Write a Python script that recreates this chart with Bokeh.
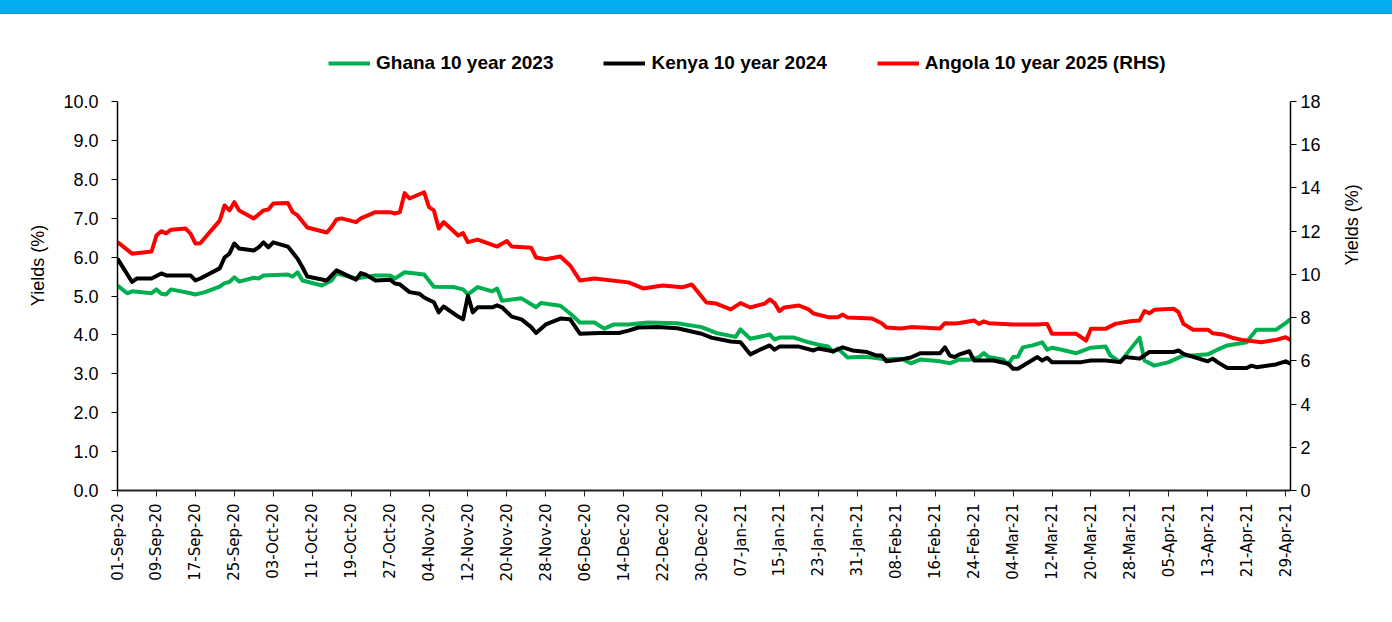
import pandas as pd
from math import pi
from bokeh.plotting import figure
from bokeh.models import (ColumnDataSource, LinearAxis, Range1d, FixedTicker,
                          PrintfTickFormatter, DatetimeTickFormatter, Legend,
                          LegendItem, Div)
from bokeh.layouts import column
from bokeh.embed import file_html
from bokeh.resources import INLINE

# ---------------- data ----------------
ghana_dates = ["2020-09-01", "2020-09-03", "2020-09-04", "2020-09-08", "2020-09-09", "2020-09-10",
               "2020-09-11", "2020-09-12", "2020-09-16", "2020-09-17", "2020-09-19", "2020-09-22",
               "2020-09-23", "2020-09-24", "2020-09-25", "2020-09-26", "2020-09-29", "2020-09-30",
               "2020-10-01", "2020-10-06", "2020-10-07", "2020-10-08", "2020-10-09", "2020-10-13",
               "2020-10-15", "2020-10-16", "2020-10-20", "2020-10-24", "2020-10-27", "2020-10-28",
               "2020-10-30", "2020-11-03", "2020-11-05", "2020-11-09", "2020-11-11", "2020-11-12",
               "2020-11-14", "2020-11-17", "2020-11-18", "2020-11-19", "2020-11-23", "2020-11-26",
               "2020-11-27", "2020-12-01", "2020-12-03", "2020-12-05", "2020-12-08", "2020-12-10",
               "2020-12-12", "2020-12-15", "2020-12-19", "2020-12-25", "2020-12-30", "2021-01-02",
               "2021-01-06", "2021-01-07", "2021-01-09", "2021-01-12", "2021-01-13", "2021-01-14",
               "2021-01-15", "2021-01-18", "2021-01-21", "2021-01-23", "2021-01-25", "2021-01-26",
               "2021-01-27", "2021-01-29", "2021-02-01", "2021-02-03", "2021-02-06", "2021-02-09",
               "2021-02-11", "2021-02-13", "2021-02-17", "2021-02-19", "2021-02-21", "2021-02-23",
               "2021-02-25", "2021-02-26", "2021-02-27", "2021-03-02", "2021-03-03", "2021-03-04",
               "2021-03-05", "2021-03-06", "2021-03-08", "2021-03-10", "2021-03-11", "2021-03-12",
               "2021-03-14", "2021-03-17", "2021-03-20", "2021-03-23", "2021-03-24", "2021-03-26",
               "2021-03-30", "2021-03-31", "2021-04-02", "2021-04-05", "2021-04-08", "2021-04-10",
               "2021-04-13", "2021-04-15", "2021-04-17", "2021-04-21", "2021-04-22", "2021-04-23",
               "2021-04-27", "2021-04-28", "2021-04-29", "2021-04-30"]
ghana_vals = [5.27, 5.07, 5.12, 5.07, 5.17, 5.06,
              5.04, 5.17, 5.07, 5.04, 5.10, 5.24,
              5.33, 5.36, 5.48, 5.37, 5.47, 5.45,
              5.53, 5.55, 5.50, 5.61, 5.40, 5.27,
              5.40, 5.58, 5.45, 5.53, 5.53, 5.45,
              5.61, 5.55, 5.24, 5.23, 5.17, 5.04,
              5.23, 5.12, 5.19, 4.88, 4.94, 4.71,
              4.82, 4.75, 4.55, 4.32, 4.32, 4.16,
              4.27, 4.27, 4.32, 4.30, 4.20, 4.05,
              3.95, 4.14, 3.90, 3.98, 4.01, 3.88,
              3.93, 3.93, 3.81, 3.75, 3.70, 3.56,
              3.65, 3.42, 3.44, 3.42, 3.37, 3.39,
              3.27, 3.37, 3.32, 3.27, 3.37, 3.36,
              3.43, 3.53, 3.43, 3.36, 3.24, 3.43,
              3.44, 3.68, 3.73, 3.81, 3.62, 3.67,
              3.62, 3.53, 3.67, 3.70, 3.47, 3.30,
              3.93, 3.34, 3.21, 3.30, 3.47, 3.47,
              3.50, 3.62, 3.73, 3.81, 3.98, 4.13,
              4.13, 4.22, 4.30, 4.41]

kenya_dates = ["2020-09-01", "2020-09-04", "2020-09-05", "2020-09-08", "2020-09-10", "2020-09-11",
               "2020-09-16", "2020-09-17", "2020-09-18", "2020-09-22", "2020-09-23", "2020-09-24",
               "2020-09-25", "2020-09-26", "2020-09-29", "2020-09-30", "2020-10-01", "2020-10-02",
               "2020-10-03", "2020-10-06", "2020-10-08", "2020-10-09", "2020-10-10", "2020-10-14",
               "2020-10-16", "2020-10-20", "2020-10-21", "2020-10-22", "2020-10-24", "2020-10-27",
               "2020-10-28", "2020-10-29", "2020-10-31", "2020-11-02", "2020-11-03", "2020-11-05",
               "2020-11-06", "2020-11-07", "2020-11-10", "2020-11-11", "2020-11-12", "2020-11-13",
               "2020-11-14", "2020-11-17", "2020-11-18", "2020-11-19", "2020-11-21", "2020-11-23",
               "2020-11-25", "2020-11-26", "2020-11-28", "2020-12-01", "2020-12-03", "2020-12-05",
               "2020-12-09", "2020-12-13", "2020-12-15", "2020-12-17", "2020-12-21", "2020-12-25",
               "2020-12-30", "2021-01-01", "2021-01-05", "2021-01-07", "2021-01-09", "2021-01-11",
               "2021-01-13", "2021-01-14", "2021-01-15", "2021-01-19", "2021-01-22", "2021-01-23",
               "2021-01-26", "2021-01-28", "2021-01-30", "2021-02-02", "2021-02-04", "2021-02-05",
               "2021-02-06", "2021-02-09", "2021-02-11", "2021-02-13", "2021-02-17", "2021-02-18",
               "2021-02-19", "2021-02-20", "2021-02-21", "2021-02-23", "2021-02-24", "2021-02-28",
               "2021-03-03", "2021-03-04", "2021-03-05", "2021-03-09", "2021-03-10", "2021-03-11",
               "2021-03-12", "2021-03-18", "2021-03-20", "2021-03-23", "2021-03-26", "2021-03-27",
               "2021-03-30", "2021-04-01", "2021-04-06", "2021-04-07", "2021-04-08", "2021-04-13",
               "2021-04-14", "2021-04-15", "2021-04-17", "2021-04-21", "2021-04-22", "2021-04-23",
               "2021-04-27", "2021-04-29", "2021-04-30"]
kenya_vals = [5.96, 5.36, 5.45, 5.45, 5.58, 5.53,
              5.53, 5.40, 5.45, 5.71, 5.99, 6.09,
              6.35, 6.22, 6.17, 6.25, 6.38, 6.25,
              6.38, 6.27, 5.96, 5.74, 5.50, 5.40,
              5.66, 5.42, 5.59, 5.55, 5.40, 5.42,
              5.32, 5.30, 5.10, 5.06, 4.96, 4.84,
              4.58, 4.73, 4.47, 4.40, 5.01, 4.58,
              4.71, 4.71, 4.76, 4.71, 4.47, 4.40,
              4.20, 4.05, 4.27, 4.42, 4.40, 4.03,
              4.05, 4.05, 4.11, 4.19, 4.20, 4.17,
              4.03, 3.93, 3.83, 3.81, 3.50, 3.62,
              3.73, 3.62, 3.70, 3.70, 3.60, 3.65,
              3.58, 3.68, 3.60, 3.56, 3.47, 3.47,
              3.32, 3.37, 3.42, 3.53, 3.53, 3.68,
              3.47, 3.43, 3.50, 3.58, 3.34, 3.34,
              3.26, 3.13, 3.13, 3.43, 3.34, 3.41,
              3.30, 3.30, 3.34, 3.34, 3.30, 3.43,
              3.39, 3.56, 3.56, 3.60, 3.51, 3.32,
              3.39, 3.30, 3.15, 3.15, 3.21, 3.17,
              3.24, 3.32, 3.26]

angola_dates = ["2020-09-01", "2020-09-04", "2020-09-08", "2020-09-09", "2020-09-10", "2020-09-11",
                "2020-09-12", "2020-09-15", "2020-09-16", "2020-09-17", "2020-09-18", "2020-09-22",
                "2020-09-23", "2020-09-24", "2020-09-25", "2020-09-26", "2020-09-29", "2020-10-01",
                "2020-10-02", "2020-10-03", "2020-10-06", "2020-10-07", "2020-10-08", "2020-10-10",
                "2020-10-14", "2020-10-15", "2020-10-16", "2020-10-17", "2020-10-20", "2020-10-21",
                "2020-10-24", "2020-10-27", "2020-10-28", "2020-10-29", "2020-10-30", "2020-10-31",
                "2020-11-03", "2020-11-04", "2020-11-05", "2020-11-06", "2020-11-07", "2020-11-10",
                "2020-11-11", "2020-11-12", "2020-11-14", "2020-11-18", "2020-11-20", "2020-11-21",
                "2020-11-25", "2020-11-26", "2020-11-28", "2020-12-01", "2020-12-03", "2020-12-05",
                "2020-12-08", "2020-12-15", "2020-12-18", "2020-12-22", "2020-12-26", "2020-12-28",
                "2020-12-31", "2021-01-02", "2021-01-05", "2021-01-07", "2021-01-09", "2021-01-12",
                "2021-01-13", "2021-01-14", "2021-01-15", "2021-01-16", "2021-01-19", "2021-01-21",
                "2021-01-22", "2021-01-25", "2021-01-27", "2021-01-28", "2021-01-29", "2021-02-03",
                "2021-02-05", "2021-02-06", "2021-02-09", "2021-02-11", "2021-02-17", "2021-02-18",
                "2021-02-20", "2021-02-21", "2021-02-24", "2021-02-25", "2021-02-26", "2021-02-27",
                "2021-03-04", "2021-03-09", "2021-03-11", "2021-03-12", "2021-03-17", "2021-03-19",
                "2021-03-20", "2021-03-23", "2021-03-25", "2021-03-28", "2021-03-30", "2021-03-31",
                "2021-04-01", "2021-04-02", "2021-04-06", "2021-04-07", "2021-04-08", "2021-04-10",
                "2021-04-13", "2021-04-14", "2021-04-16", "2021-04-18", "2021-04-20", "2021-04-24",
                "2021-04-27", "2021-04-29", "2021-04-30"]
angola_vals = [11.49, 10.96, 11.06, 11.80, 12.00, 11.90,
               12.07, 12.12, 11.89, 11.43, 11.44, 12.49,
               13.19, 12.96, 13.34, 12.96, 12.59, 12.96,
               13.00, 13.28, 13.30, 12.88, 12.73, 12.17,
               11.94, 12.20, 12.54, 12.59, 12.42, 12.59,
               12.88, 12.88, 12.82, 12.88, 13.76, 13.51,
               13.80, 13.11, 12.96, 12.12, 12.42, 11.80,
               11.91, 11.49, 11.61, 11.29, 11.54, 11.29,
               11.23, 10.78, 10.70, 10.83, 10.41, 9.72,
               9.81, 9.63, 9.35, 9.49, 9.40, 9.53,
               8.70, 8.65, 8.38, 8.67, 8.47, 8.65,
               8.84, 8.67, 8.30, 8.47, 8.56, 8.38,
               8.19, 8.02, 8.02, 8.14, 8.00, 7.96,
               7.74, 7.54, 7.50, 7.56, 7.50, 7.74,
               7.73, 7.75, 7.87, 7.71, 7.83, 7.74,
               7.68, 7.68, 7.71, 7.25, 7.25, 6.94,
               7.48, 7.48, 7.71, 7.83, 7.87, 8.30,
               8.20, 8.36, 8.41, 8.25, 7.71, 7.44,
               7.44, 7.28, 7.22, 7.07, 6.97, 6.86,
               6.97, 7.09, 6.97]

tick_dates = ["2020-09-01", "2020-09-09", "2020-09-17", "2020-09-25", "2020-10-03", "2020-10-11",
              "2020-10-19", "2020-10-27", "2020-11-04", "2020-11-12", "2020-11-20", "2020-11-28",
              "2020-12-06", "2020-12-14", "2020-12-22", "2020-12-30", "2021-01-07", "2021-01-15",
              "2021-01-23", "2021-01-31", "2021-02-08", "2021-02-16", "2021-02-24", "2021-03-04",
              "2021-03-12", "2021-03-20", "2021-03-28", "2021-04-05", "2021-04-13", "2021-04-21",
              "2021-04-29"]
left_ticks = [0, 1, 2, 3, 4, 5, 6, 7, 8, 9, 10]
right_ticks = [0, 2, 4, 6, 8, 10, 12, 14, 16, 18]
series_names = ["Ghana 10 year 2023", "Kenya 10 year 2024", "Angola 10 year 2025 (RHS)"]

# ---------------- figure ----------------
def ms(s):
    return pd.Timestamp(s).value / 1e6

FONT = "Liberation Sans"

# frame extends above the 10.0 tick (room for the in-frame legend); axes are bounded
FRAME_TOP_PAD = 26          # px from figure top to frame top
AXIS_PX = 389               # px spanned by 0..10 (left) / 0..18 (right)
FRAME_H = 608 - 132 - FRAME_TOP_PAD
LEFT_MAX, RIGHT_MAX = 10, 18

p = figure(width=1392, height=608, x_axis_type="datetime",
           x_range=Range1d(ms("2020-09-01"), ms("2021-04-30")),
           y_range=Range1d(0, LEFT_MAX * FRAME_H / AXIS_PX),
           output_backend="svg", toolbar_location=None,
           min_border_left=117, min_border_right=102,
           min_border_top=FRAME_TOP_PAD, min_border_bottom=132)
p.extra_y_ranges = {"right": Range1d(0, RIGHT_MAX * FRAME_H / AXIS_PX)}
p.xgrid.visible = False
p.ygrid.visible = False
p.outline_line_color = None
p.background_fill_color = "white"
p.border_fill_color = "white"

src_g = ColumnDataSource(dict(x=pd.to_datetime(ghana_dates), y=ghana_vals))
src_k = ColumnDataSource(dict(x=pd.to_datetime(kenya_dates), y=kenya_vals))
src_a = ColumnDataSource(dict(x=pd.to_datetime(angola_dates), y=angola_vals))

rg = p.line("x", "y", source=src_g, line_width=4, color="#00B050", line_join="round")
rk = p.line("x", "y", source=src_k, line_width=4, color="#000000", line_join="round")
ra = p.line("x", "y", source=src_a, line_width=4, color="#FF0000", line_join="round",
            y_range_name="right")

# x axis
xa = p.xaxis[0]
xa.ticker = FixedTicker(ticks=[ms(d) for d in tick_dates])
xa.formatter = DatetimeTickFormatter(days="%d-%b-%y", months="%d-%b-%y", years="%d-%b-%y")
xa.major_label_orientation = pi / 2
xa.major_label_text_font = "DejaVu Sans"
xa.major_label_text_font_size = "15px"
xa.major_label_text_color = "#000000"
xa.major_tick_in = 0
xa.major_tick_out = 6
xa.minor_tick_line_color = None
xa.axis_line_width = 2
xa.axis_line_color = "#222222"
xa.major_tick_line_color = "#222222"
xa.major_label_standoff = 7

# left axis
ya = p.yaxis[0]
ya.ticker = FixedTicker(ticks=left_ticks)
ya.bounds = (0, LEFT_MAX)
ya.formatter = PrintfTickFormatter(format="%.1f")
ya.axis_label = "Yields (%)"
ya.axis_label_text_font_style = "normal"
ya.axis_label_text_font = FONT
ya.axis_label_text_font_size = "18px"
ya.axis_label_text_color = "#000000"
ya.axis_label_standoff = 12
ya.major_label_text_font = FONT
ya.major_label_text_font_size = "18px"
ya.major_label_text_color = "#000000"
ya.major_tick_in = 0
ya.major_tick_out = 6
ya.minor_tick_line_color = None
ya.axis_line_width = 1.5
ya.major_label_standoff = 13

# right axis
yr = LinearAxis(y_range_name="right", ticker=FixedTicker(ticks=right_ticks))
yr.bounds = (0, RIGHT_MAX)
yr.axis_label = "Yields (%)"
yr.axis_label_text_font_style = "normal"
yr.axis_label_text_font = FONT
yr.axis_label_text_font_size = "18px"
yr.axis_label_text_color = "#000000"
yr.axis_label_standoff = 28
try:
    yr.axis_label_orientation = pi / 2
except Exception:
    pass
yr.major_label_text_font = FONT
yr.major_label_text_font_size = "18px"
yr.major_label_text_color = "#000000"
yr.major_tick_in = 0
yr.major_tick_out = 6
yr.minor_tick_line_color = None
yr.axis_line_width = 1.5
yr.major_label_standoff = 4
p.add_layout(yr, "right")

legend = Legend(items=[LegendItem(label=series_names[0], renderers=[rg]),
                       LegendItem(label=series_names[1], renderers=[rk]),
                       LegendItem(label=series_names[2], renderers=[ra])],
                orientation="horizontal", location=(211, 416))
legend.label_text_font = FONT
legend.label_text_font_style = "bold"
legend.label_text_font_size = "19px"
legend.label_text_color = "#000000"
legend.glyph_width = 42
legend.glyph_height = 20
legend.label_standoff = 6
legend.spacing = 50
legend.padding = 0
legend.margin = 0
legend.border_line_color = None
legend.background_fill_alpha = 0
p.add_layout(legend, "center")

bar = Div(width=1392, height=14,
          styles={"background-color": "#00ADEF", "border-bottom": "1px solid #0A90CF",
                  "margin": "0", "box-sizing": "border-box"})
layout = column(bar, p, spacing=0)

open("out.html", "w").write(file_html(layout, INLINE))
